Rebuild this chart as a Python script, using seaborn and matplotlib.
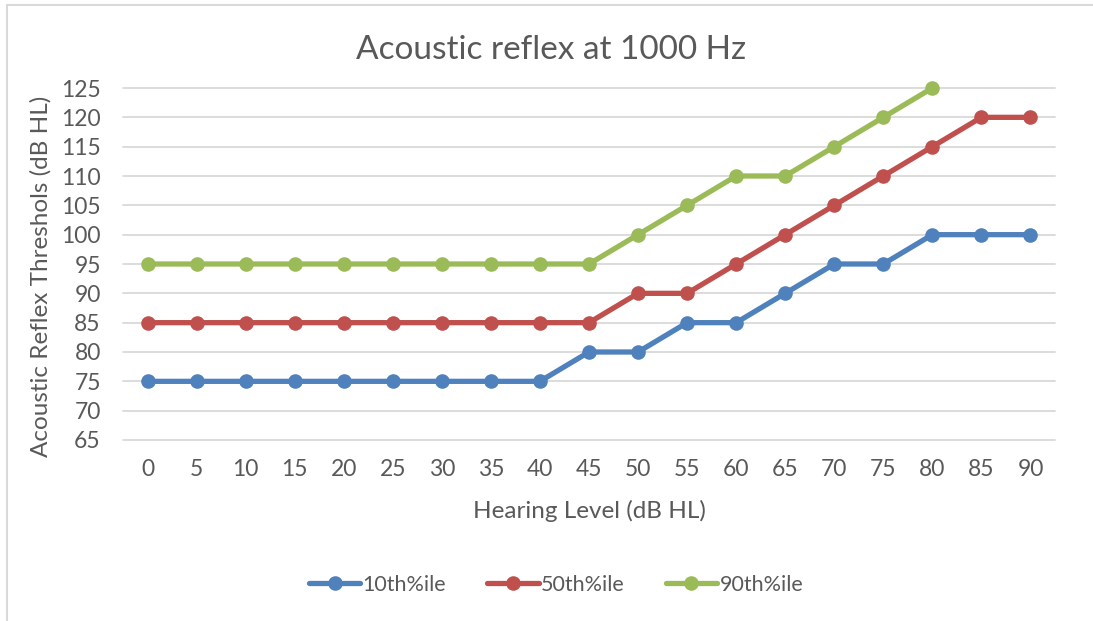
import numpy as np
import pandas as pd
import matplotlib
matplotlib.use("Agg")
import matplotlib.pyplot as plt
from matplotlib.patches import Rectangle
import seaborn as sns

# Hearing levels (categories on the x axis)
hearing_levels = [0, 5, 10, 15, 20, 25, 30, 35, 40, 45, 50, 55, 60, 65, 70, 75, 80, 85, 90]

# Acoustic reflex thresholds by percentile
p10 = [75, 75, 75, 75, 75, 75, 75, 75, 75, 80, 80, 85, 85, 90, 95, 95, 100, 100, 100]
p50 = [85, 85, 85, 85, 85, 85, 85, 85, 85, 85, 90, 90, 95, 100, 105, 110, 115, 120, 120]
p90 = [95, 95, 95, 95, 95, 95, 95, 95, 95, 95, 100, 105, 110, 110, 115, 120, 125, None, None]

series_names = ["10th%ile", "50th%ile", "90th%ile"]
series_colors = ["#4F81BD", "#C0504D", "#9BBB59"]

y_ticks = list(range(65, 130, 5))

sns.set_theme(style="white")
plt.rcParams["font.family"] = ["Lato", "DejaVu Sans"]

rows = []
for name, vals in zip(series_names, [p10, p50, p90]):
    for i, (hl, v) in enumerate(zip(hearing_levels, vals)):
        if v is not None:
            rows.append({"pos": i, "level": hl, "threshold": v, "series": name})
df = pd.DataFrame(rows)

fig = plt.figure(figsize=(10.93, 6.21), dpi=100)
ax = fig.add_axes([123 / 1093, 1 - 440 / 621, (1055 - 123) / 1093, (440 - 88) / 621])

text_color = "#595959"
grid_color = "#D9D9D9"

for y in y_ticks:
    ax.axhline(y, color=grid_color, lw=1.3, zorder=0)

sns.lineplot(
    data=df, x="pos", y="threshold", hue="series", hue_order=series_names,
    palette=series_colors, marker="o", markersize=10.5, markeredgewidth=0,
    linewidth=3.8, ax=ax, legend=False, zorder=3, clip_on=False,
)
for line in ax.lines:
    line.set_clip_on(False)

ax.set_xlim(-0.5, len(hearing_levels) - 0.5)
ax.set_ylim(65, 125)
ax.set_xticks(range(len(hearing_levels)))
ax.set_xticklabels([str(h) for h in hearing_levels])
ax.set_yticks(y_ticks)
ax.tick_params(axis="both", length=0, labelsize=16.5, colors=text_color)
ax.tick_params(axis="x", pad=14)
ax.tick_params(axis="y", pad=16)
for s in ax.spines.values():
    s.set_visible(False)

ax.set_xlabel("Hearing Level (dB HL)", fontsize=17.5, color=text_color, labelpad=14)
ax.set_ylabel("Acoustic Reflex Threshols (dB HL)", fontsize=17.5, color=text_color)
ax.yaxis.set_label_coords(-(123 - 52) / 932, (440 - 276) / 352)
fig.text(551 / 1093, 1 - 50 / 621, "Acoustic reflex at 1000 Hz", ha="center", va="center",
         fontsize=24, color=text_color)

# Legend below the plot
handles = [plt.Line2D([], [], color=c, lw=3.8, marker="o", markersize=10.5, markeredgewidth=0)
           for c in series_colors]
fig.legend(handles, series_names, loc="center", bbox_to_anchor=(556 / 1093, 1 - 585 / 621),
           ncol=3, frameon=False, fontsize=15.5, handlelength=2.4, handletextpad=0.1,
           columnspacing=1.9, labelcolor=text_color)

# Chart border
fig.patches.append(Rectangle((7 / 1093, -0.1), 1.2, 1 - 5 / 621 + 0.1, transform=fig.transFigure,
                             fill=False, edgecolor="#D9D9D9", lw=1.5))

fig.savefig("out.png", dpi=100, facecolor="white")
